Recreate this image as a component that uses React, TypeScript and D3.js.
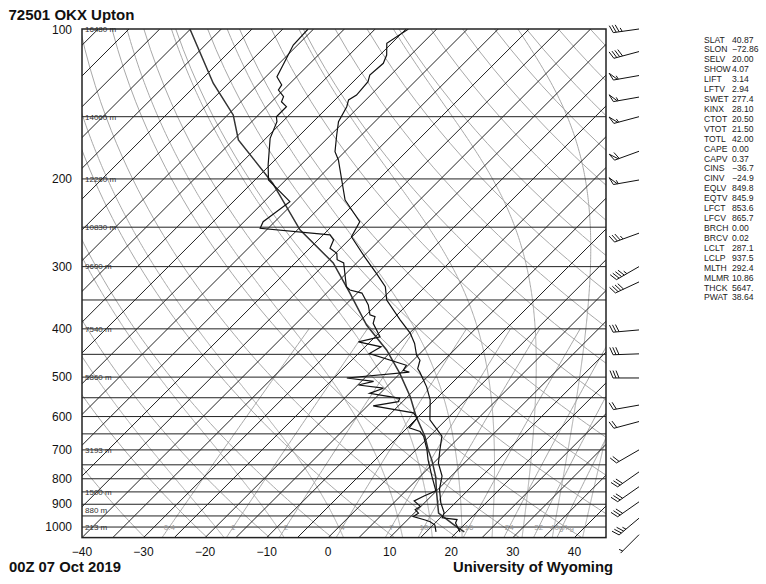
import React from 'react';
import * as d3 from 'd3';

// ---------- DATA ----------
const stationTitle = '72501 OKX Upton';
const dateLabel = '00Z 07 Oct 2019';
const creditLabel = 'University of Wyoming';

const pressureTicks = [100, 200, 300, 400, 500, 600, 700, 800, 900, 1000];
const tempTicks = [-40, -30, -20, -10, 0, 10, 20, 30, 40];
const isobarLevels = [150, 200, 250, 300, 350, 400, 450, 500, 550, 600, 650, 700, 750, 800, 850, 900, 950, 1000];

const heightLevels = [100, 150, 200, 250, 300, 400, 500, 700, 850, 925, 1000];
const heightLabels = ['16480 m', '14060 m', '12280 m', '10830 m', '9600 m', '7540 m', '5860 m', '3193 m', '1500 m', '880 m', '213 m'];

const mixingRatios = [0.4, 1, 2, 4, 7, 10, 16, 24, 32, 40];
const mixingLabels = ['0.4', '1', '2', '4', '7', '10', '16', '24', '32', '40g/kg'];

const dryThetas = [240, 250, 260, 270, 280, 290, 300, 310, 320, 330, 340, 350, 360, 370, 380, 390, 400, 410, 420, 430, 440, 450, 460, 470, 480, 490, 500];
const moistStartT = [-20, -10, 0, 10, 15, 20, 25, 30, 35, 40];

const tempP = [100, 106.8, 112.8, 117.2, 123.7, 127.6, 135.7, 138.8, 143.2, 153.5, 163.4, 176.3, 183.2, 201, 220.5, 243.7, 261.3, 286.7, 309.5, 329, 350, 383.6, 408, 428, 451.6, 462.5, 480.9, 488.6, 523, 555.6, 609.3, 657, 700, 744, 790, 839, 893, 936, 958, 966, 981, 1023];
const tempC = [-69.6, -70.8, -68.9, -68.1, -68.4, -67.6, -67.3, -67.8, -67.0, -65.9, -64.0, -61.6, -59.7, -55.9, -52.1, -46.2, -45.1, -39.7, -35.1, -31.5, -29.1, -23.7, -19.9, -17.5, -15.3, -13.9, -12.9, -12.0, -8.5, -5.8, -2.6, 2.0, 3.9, 5.8, 8.5, 10.2, 12.6, 14.8, 15.3, 18.0, 18.3, 20.5];

const dewP = [100, 107.7, 112.8, 124.7, 129.5, 132.6, 136.7, 140, 143.2, 150, 153.5, 165.8, 187.5, 201, 222.2, 243.7, 251.3, 259, 265, 275.7, 282, 290.5, 295, 329.3, 334.2, 339, 358, 375, 378, 390, 415, 424.7, 434.6, 448.4, 473.4, 484.5, 488.6, 502, 510, 518.5, 526.3, 539, 551.5, 560, 571, 590, 603.8, 632, 643, 658, 700, 733, 791, 846, 866, 886, 909, 923, 938, 953, 968, 976, 991, 1023];
const dewC = [-85.9, -85.7, -84.9, -83.2, -81.1, -80.8, -78.9, -78.4, -76.8, -76.8, -75.9, -74.3, -70.3, -67.8, -60.8, -61.9, -61.3, -48.9, -47.5, -46.7, -44.8, -43.7, -42.1, -37.8, -36.7, -34.25, -31.3, -29.4, -28.3, -27.5, -24.2, -26.9, -22.4, -23.2, -15.3, -15.0, -13.7, -22.9, -18.0, -19.9, -15.3, -16.7, -11.0, -10.7, -14.1, -6.4, -5.0, -4.7, -2.3, -0.9, 1.8, 3.6, 6.9, 9.9, 8.8, 8.0, 9.9, 9.6, 10.7, 10.4, 12.9, 14.0, 15.3, 16.6];

const parcelP = [100, 128.5, 148.8, 167, 204, 253, 295, 339, 393, 441, 491, 547, 601, 658, 700, 733, 791, 855, 937.5, 1000, 1023];
const parcelC = [-105.1, -92.5, -84.1, -79.2, -66.6, -54.6, -43.8, -36.2, -28.3, -21.0, -15.1, -9.6, -5.3, -0.7, 2.0, 4.2, 7.5, 10.4, 13.95, 19.2, 21.2];

const windP = [100, 111, 124, 137, 150, 176, 201, 257, 300, 322, 402, 449, 502, 569, 614, 700, 775, 830, 890, 960, 1036];
const windDir = [262, 255, 260, 260, 255, 250, 260, 250, 240, 245, 265, 268, 270, 260, 255, 240, 235, 235, 235, 230, 225];
const windKt = [35, 40, 55, 55, 55, 60, 55, 35, 45, 40, 30, 30, 30, 20, 20, 20, 30, 30, 30, 35, 5];

const statNames = ['SLAT', 'SLON', 'SELV', 'SHOW', 'LIFT', 'LFTV', 'SWET', 'KINX', 'CTOT', 'VTOT', 'TOTL', 'CAPE', 'CAPV', 'CINS', 'CINV', 'EQLV', 'EQTV', 'LFCT', 'LFCV', 'BRCH', 'BRCV', 'LCLT', 'LCLP', 'MLTH', 'MLMR', 'THCK', 'PWAT'];
const statValues = ['40.87', '\u221272.86', '20.00', '4.07', '3.14', '2.94', '277.4', '28.10', '20.50', '21.50', '42.00', '0.00', '0.37', '\u221236.7', '\u221224.9', '849.8', '845.9', '853.6', '865.7', '0.00', '0.02', '287.1', '937.5', '292.4', '10.86', '5647.', '38.64'];

// ---------- GEOMETRY ----------
const W = 766;
const H = 584;
const LEFT = 82;
const RIGHT = 606;
const TOP = 29;
const BOTTOM = 537.6;
const FONT = '"Liberation Sans", Arial, Helvetica, sans-serif';

const yScale = d3.scaleLog().domain([100, 1050]).range([TOP, BOTTOM]);
const tScale = d3.scaleLinear().domain([-40, 40]).range([LEFT, 574.4]);
const skewX = (t: number, p: number) => tScale(t) + (yScale(1050) - yScale(p));

const lineGen = d3
  .line<[number, number]>()
  .x((d) => skewX(d[1], d[0]))
  .y((d) => yScale(d[0]));

const pRange = (a: number, b: number, step: number) => d3.range(a, b + 0.001, step);

function satVap(tc: number) {
  return 6.112 * Math.exp((17.67 * tc) / (tc + 243.5));
}
function dewFromMix(w: number, p: number) {
  const e = (w * p) / (622 + w);
  const l = Math.log(e / 6.112);
  return (243.5 * l) / (17.67 - l);
}
function moistLapse(tK: number, p: number) {
  const Rd = 287.04, Cp = 1005.7, Lv = 2.501e6, eps = 0.622;
  const es = satVap(tK - 273.15);
  const rs = (eps * es) / (p - es);
  return ((Rd * tK + Lv * rs) / (Cp + (Lv * Lv * rs * eps) / (Rd * tK * tK))) / p;
}
function moistAdiabat(t0: number): [number, number][] {
  let t = t0 + 273.15;
  const up: [number, number][] = [];
  for (let p = 1000; p >= 100; p -= 2) {
    up.push([p, t - 273.15]);
    const k1 = moistLapse(t, p);
    const k2 = moistLapse(t - k1, p - 1);
    t -= k1 + k2;
  }
  t = t0 + 273.15;
  const down: [number, number][] = [];
  for (let p = 1000; p < 1050; p += 2) {
    const k1 = moistLapse(t, p);
    const k2 = moistLapse(t + k1, p + 1);
    t += k1 + k2;
    down.push([p + 2, t - 273.15]);
  }
  return down.reverse().concat(up);
}

function barb(p: number, dir: number, spd: number) {
  const sx = 639;
  const sy = yScale(p);
  const r = (dir * Math.PI) / 180;
  const u = [Math.sin(r), -Math.cos(r)];
  const n = [-u[1], u[0]];
  const a = (22 * Math.PI) / 180;
  const f = [n[0] * Math.cos(a) + u[0] * Math.sin(a), n[1] * Math.cos(a) + u[1] * Math.sin(a)];
  const L = 26;
  const F = 8;
  const tip = [sx + L * u[0], sy + L * u[1]];
  const at = (dd: number) => [tip[0] - dd * u[0], tip[1] - dd * u[1]];
  let lines = `M${sx},${sy}L${tip[0]},${tip[1]}`;
  let s = Math.round(spd / 5) * 5;
  let d = 0;
  const nPen = Math.floor(s / 50);
  s -= nPen * 50;
  const nFull = Math.floor(s / 10);
  s -= nFull * 10;
  const half = s >= 5;
  for (let i = 0; i < nPen; i++) {
    const b0 = at(d);
    const b1 = at(d + 4);
    lines += `M${b0[0]},${b0[1]}L${b0[0] + F * f[0]},${b0[1] + F * f[1]}L${b1[0]},${b1[1]}`;
    d += 5;
  }
  for (let i = 0; i < nFull; i++) {
    const b = at(d);
    lines += `M${b[0]},${b[1]}L${b[0] + F * f[0]},${b[1] + F * f[1]}`;
    d += 3;
  }
  if (half) {
    if (d === 0) d = 3;
    const b = at(d);
    lines += `M${b[0]},${b[1]}L${b[0] + (F / 2) * f[0]},${b[1] + (F / 2) * f[1]}`;
  }
  return lines;
}

export default function App() {
  React.useEffect(() => {
    document.body.style.margin = '0';
  }, []);

  const isotherms = d3.range(-200, 50, 5).map((t) => [
    [skewX(t, 1050), yScale(1050)],
    [skewX(t, 100), yScale(100)],
  ]);

  const dryPaths = dryThetas.map((th) =>
    lineGen(pRange(100, 1050, 10).map((p) => [p, th * Math.pow(p / 1000, 0.2857) - 273.15] as [number, number]))
  );
  const moistPaths = moistStartT.map((t0) => lineGen(moistAdiabat(t0)));
  const mixPaths = mixingRatios.map((w) =>
    lineGen(pRange(400, 1050, 10).map((p) => [p, dewFromMix(w, p)] as [number, number]))
  );

  const tempPath = lineGen(tempP.map((p, i) => [p, tempC[i]] as [number, number]));
  const dewPath = lineGen(dewP.map((p, i) => [p, dewC[i]] as [number, number]));
  const parcelPath = lineGen(parcelP.map((p, i) => [p, parcelC[i]] as [number, number]));

  const barbs = windP.map((p, i) => barb(p, windDir[i], windKt[i]));

  return (
    <svg
      width={W}
      height={H}
      viewBox={`0 0 ${W} ${H}`}
      style={{ position: 'absolute', left: 0, top: 0, background: '#fff', fontFamily: FONT }}
    >
      <defs>
        <clipPath id="plotClip">
          <rect x={LEFT} y={TOP} width={RIGHT - LEFT} height={BOTTOM - TOP} />
        </clipPath>
      </defs>
      <rect x={0} y={0} width={W} height={H} fill="#fff" />

      <g clipPath="url(#plotClip)" fill="none">
        {dryPaths.map((d, i) => (
          <path key={'dry' + i} d={d || ''} stroke="#a8a8a8" strokeWidth={1} />
        ))}
        {moistPaths.map((d, i) => (
          <path key={'moist' + i} d={d || ''} stroke="#a8a8a8" strokeWidth={1} />
        ))}
        {mixPaths.map((d, i) => (
          <path key={'mix' + i} d={d || ''} stroke="#a8a8a8" strokeWidth={1} />
        ))}
        {isotherms.map((l, i) => (
          <line key={'iso' + i} x1={l[0][0]} y1={l[0][1]} x2={l[1][0]} y2={l[1][1]} stroke="#222" strokeWidth={1} />
        ))}
        {isobarLevels.map((p) => (
          <line key={'bar' + p} x1={LEFT} x2={RIGHT} y1={yScale(p)} y2={yScale(p)} stroke="#222" strokeWidth={1} />
        ))}
      </g>

      {mixingRatios.map((w, i) => (
        <text
          key={'ml' + i}
          x={skewX(dewFromMix(w, 1000), 1000)}
          y={yScale(1000)}
          dy="0.35em"
          fontSize={8}
          fill="#9a9a9a"
          textAnchor="middle"
        >
          {mixingLabels[i]}
        </text>
      ))}

      {heightLevels.map((p, i) => (
        <text key={'h' + i} x={85} y={yScale(p)} dy="0.35em" fontSize={8} fill="#333">
          {heightLabels[i]}
        </text>
      ))}

      <g clipPath="url(#plotClip)" fill="none">
        <path d={parcelPath || ''} stroke="#333" strokeWidth={1.5} />
        <path d={tempPath || ''} stroke="#111" strokeWidth={1.2} />
        <path d={dewPath || ''} stroke="#111" strokeWidth={1.2} />
      </g>

      <rect x={LEFT} y={TOP} width={RIGHT - LEFT} height={BOTTOM - TOP} fill="none" stroke="#222" strokeWidth={1.5} />

      {pressureTicks.map((p) => (
        <text key={'pt' + p} x={72} y={yScale(p) + (p === 100 ? 0.8 : 0)} dy="0.35em" fontSize={12} textAnchor="end" fill="#111">
          {p}
        </text>
      ))}
      {tempTicks.map((t) => (
        <text key={'tt' + t} x={tScale(t)} y={555.5} fontSize={12} textAnchor="middle" fill="#111">
          {t < 0 ? '\u2212' + Math.abs(t) : t}
        </text>
      ))}

      {barbs.map((b, i) => (
        <path key={'wb' + i} d={b} stroke="#111" strokeWidth={1} fill="none" />
      ))}

      {statNames.map((s, i) => (
        <g key={'st' + i}>
          <text x={704} y={39.5 + i * 9.92} dy="0.35em" fontSize={8.6} fill="#222">
            {s}
          </text>
          <text x={732} y={39.5 + i * 9.92} dy="0.35em" fontSize={8.6} fill="#222">
            {statValues[i]}
          </text>
        </g>
      ))}

      <text x={8.5} y={19.8} fontSize={15} fontWeight="bold" fill="#111">
        {stationTitle}
      </text>
      <text x={9} y={571.5} fontSize={14.8} fontWeight="bold" fill="#111">
        {dateLabel}
      </text>
      <text x={453} y={571.5} fontSize={14.8} fontWeight="bold" fill="#111">
        {creditLabel}
      </text>
    </svg>
  );
}
